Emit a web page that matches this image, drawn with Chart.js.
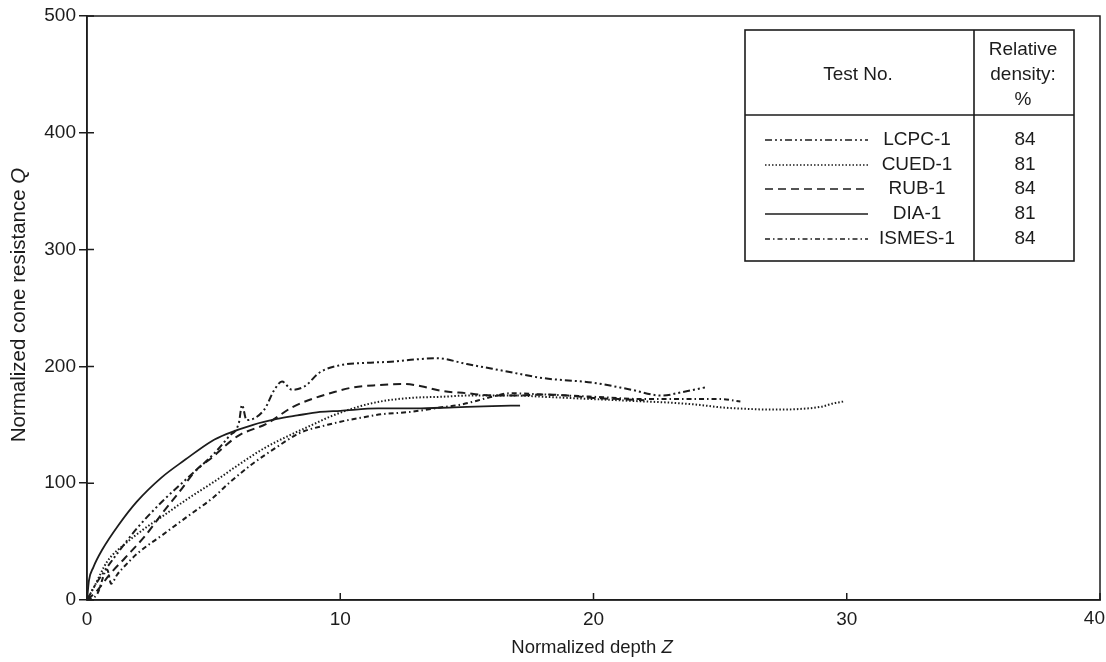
<!DOCTYPE html>
<html>
<head>
<meta charset="utf-8">
<script src="https://cdn.jsdelivr.net/npm/chart.js@4.4.1/dist/chart.umd.min.js"></script>
<style>
  html, body { margin: 0; padding: 0; background: #ffffff; }
  #wrap { width: 1106px; height: 662px; }
</style>
</head>
<body>
<div id="wrap"><canvas id="c" width="1106" height="662"></canvas></div>
<script>
// ---- Data ----
const seriesNames = ['LCPC-1', 'CUED-1', 'RUB-1', 'DIA-1', 'ISMES-1'];
const relativeDensity = ['84', '81', '84', '81', '84'];

const lcpcZ = [0, 0.3, 0.7, 1.2, 2, 3, 4, 5, 5.6, 6.0, 6.12, 6.3, 7.0, 7.4, 7.7, 8.1, 8.6, 9.2, 10, 11, 12, 13, 13.8, 15, 16.5, 18, 20, 21.5, 22.7, 23.5, 24.4];
const lcpcQ = [0, 12, 25, 40, 62, 85, 105, 125, 140, 152, 167, 154, 163, 180, 187, 180, 183, 195, 201, 203, 204, 206, 207, 202, 196, 190, 186, 180, 175, 178, 182];

const cuedZ = [0, 0.3, 0.8, 1.5, 2.2, 3, 4, 5, 6, 7, 8, 9, 9.6, 10.8, 11.6, 12.75, 14, 15, 16, 17, 18, 19, 20, 21, 22, 23, 24.2, 25, 26.2, 27, 28.1, 29, 29.5, 29.9];
const cuedQ = [0, 12, 33, 48, 60, 72, 87, 101, 116, 130, 141, 151, 157, 166, 170, 173, 174, 175, 175, 175, 174, 173, 172, 171, 170, 169, 167, 165, 163.5, 163, 163.5, 165.5, 168.5, 170];

const rubZ = [0, 0.4, 0.9, 1.5, 2.3, 3, 3.7, 4.3, 5, 5.4, 6, 7.1, 8.1, 9, 9.6, 10.5, 11.5, 12.5, 13.2, 14, 15, 16, 17, 18, 19, 20, 21, 22];
const rubQ = [0, 8, 22, 36, 55, 75, 94, 111, 123, 131, 141, 151, 165, 173, 177, 182, 184, 185, 183, 179, 177, 175, 175, 176, 175, 173, 172, 171];

const diaZ = [0, 0.08, 0.25, 0.6, 1.24, 1.96, 2.95, 3.87, 4.92, 5.5, 6.56, 7.5, 8.3, 9.2, 10, 11.5, 13, 14.5, 16, 17.1];
const diaQ = [0, 17, 28, 43, 64, 84, 105, 120, 136, 142, 150, 155, 158, 161, 162, 164, 164, 165, 166, 166.5];

const ismesZ = [0, 0.4, 0.8, 0.95, 1.2, 1.4, 2, 3, 4, 5, 5.6, 6.5, 7.5, 8.4, 9.5, 10.3, 10.8, 11.6, 12.75, 14, 14.7, 16, 16.7, 18, 20, 22, 23, 24, 25, 25.8];
const ismesQ = [0, 5, 26, 14, 22, 27, 40, 56, 72, 88, 100, 116, 131, 143, 150, 154, 156, 159, 161, 165, 167, 174, 177, 176, 174, 172, 172, 172, 172, 170];

const xTicks = [0, 10, 20, 30, 40];
const yTicks = [0, 100, 200, 300, 400, 500];

// ---- Styles ----
const INK = '#1c1c1c';
const FONT = '"Liberation Sans", Arial, Helvetica, sans-serif';
const dashes = [
  [7, 3, 2, 3, 2, 3],   // LCPC-1 dash-dot-dot
  [1.5, 2],             // CUED-1 dotted
  [8, 5],               // RUB-1 dashed
  [],                   // DIA-1 solid
  [5, 3, 1.5, 3]        // ISMES-1 dash-dot
];

function pts(zs, qs) { return zs.map((z, i) => ({ x: z, y: qs[i] })); }
const allData = [pts(lcpcZ, lcpcQ), pts(cuedZ, cuedQ), pts(rubZ, rubQ), pts(diaZ, diaQ), pts(ismesZ, ismesQ)];

const datasets = seriesNames.map((n, i) => ({
  label: n,
  data: allData[i],
  borderColor: INK,
  borderWidth: i === 3 ? 1.8 : 2,
  borderDash: dashes[i],
  pointRadius: 0,
  fill: false,
  cubicInterpolationMode: 'monotone'
}));

const lastX = xTicks[xTicks.length - 1];

const decorPlugin = {
  id: 'decor',
  afterDraw(chart) {
    const ctx = chart.ctx;
    const a = chart.chartArea;
    const xs = chart.scales.x, ys = chart.scales.y;
    ctx.save();
    ctx.strokeStyle = INK;
    ctx.lineWidth = 1.5;
    ctx.setLineDash([]);
    // frame
    ctx.strokeRect(a.left, a.top, a.right - a.left, a.bottom - a.top);
    // inward ticks
    ctx.beginPath();
    xTicks.forEach(v => {
      const px = xs.getPixelForValue(v);
      ctx.moveTo(px, a.bottom); ctx.lineTo(px, a.bottom - 7);
    });
    yTicks.forEach(v => {
      const py = ys.getPixelForValue(v);
      ctx.moveTo(a.left, py); ctx.lineTo(a.left + 7, py);
    });
    ctx.stroke();

    // last x tick label, kept inside the canvas
    ctx.fillStyle = INK;
    ctx.font = '19px ' + FONT;
    ctx.textAlign = 'right';
    ctx.textBaseline = 'top';
    ctx.fillText(String(lastX), Math.min(xs.getPixelForValue(lastX) + 5, 1105), a.bottom + 9);

    // axis titles
    ctx.textBaseline = 'middle';
    function mixed(parts, cx, cy, rot, size) {
      ctx.save();
      ctx.translate(cx, cy);
      ctx.rotate(rot);
      let total = 0;
      parts.forEach(p => { ctx.font = (p[1] ? 'italic ' : '') + size + 'px ' + FONT; total += ctx.measureText(p[0]).width; });
      let x = -total / 2;
      ctx.textAlign = 'left';
      parts.forEach(p => { ctx.font = (p[1] ? 'italic ' : '') + size + 'px ' + FONT; ctx.fillText(p[0], x, 0); x += ctx.measureText(p[0]).width; });
      ctx.restore();
    }
    mixed([['Normalized depth ', false], ['Z', true]], 592, 648, 0, 18.5);
    mixed([['Normalized cone resistance ', false], ['Q', true]], 19, 305, -Math.PI / 2, 20.5);

    // legend table
    const L = 745, R = 1074, T = 30, B = 261, VX = 974, HY = 115;
    ctx.lineWidth = 1.6;
    ctx.fillStyle = '#ffffff';
    ctx.fillRect(L, T, R - L, B - T);
    ctx.strokeRect(L, T, R - L, B - T);
    ctx.beginPath();
    ctx.moveTo(VX, T); ctx.lineTo(VX, B);
    ctx.moveTo(L, HY); ctx.lineTo(R, HY);
    ctx.stroke();
    ctx.fillStyle = INK;
    ctx.font = '19px ' + FONT;
    ctx.textAlign = 'center';
    ctx.fillText('Test No.', 858, 75);
    ctx.fillText('Relative', 1023, 50);
    ctx.fillText('density:', 1023, 75);
    ctx.fillText('%', 1023, 100);
    const rowY = [140, 165, 189, 214, 239];
    seriesNames.forEach((n, i) => {
      const y = rowY[i];
      ctx.save();
      ctx.lineWidth = 1.6;
      ctx.setLineDash(dashes[i]);
      ctx.beginPath();
      ctx.moveTo(765, y); ctx.lineTo(868, y);
      ctx.stroke();
      ctx.restore();
      ctx.textAlign = 'center';
      ctx.fillText(n, 917, y);
      ctx.fillText(relativeDensity[i], 1025, y);
    });
    ctx.restore();
  }
};

new Chart(document.getElementById('c'), {
  type: 'line',
  data: { datasets },
  options: {
    responsive: false,
    animation: false,
    layout: { padding: { top: 16, right: 6, left: 0, bottom: 0 } },
    plugins: { legend: { display: false }, tooltip: { enabled: false } },
    scales: {
      x: {
        type: 'linear', min: 0, max: 40,
        afterFit(s) { s.height = 62; s.paddingLeft = 0; s.paddingRight = 0; },
        afterBuildTicks(s) { s.ticks = xTicks.map(v => ({ value: v })); },
        ticks: {
          color: INK, font: { size: 19, family: FONT }, padding: 8,
          callback: (v) => (v === lastX ? '' : String(v))
        },
        grid: { drawOnChartArea: false, drawTicks: false },
        border: { color: INK, width: 1.5 }
      },
      y: {
        type: 'linear', min: 0, max: 500,
        afterFit(s) { s.width = 87; s.paddingTop = 0; s.paddingBottom = 0; },
        afterBuildTicks(s) { s.ticks = yTicks.map(v => ({ value: v })); },
        ticks: { color: INK, font: { size: 19, family: FONT }, padding: 3 },
        grid: { drawOnChartArea: false, drawTicks: true, tickLength: 8, color: INK, lineWidth: 1.5 },
        border: { color: INK, width: 1.5 }
      }
    }
  },
  plugins: [decorPlugin]
});
</script>
</body>
</html>
